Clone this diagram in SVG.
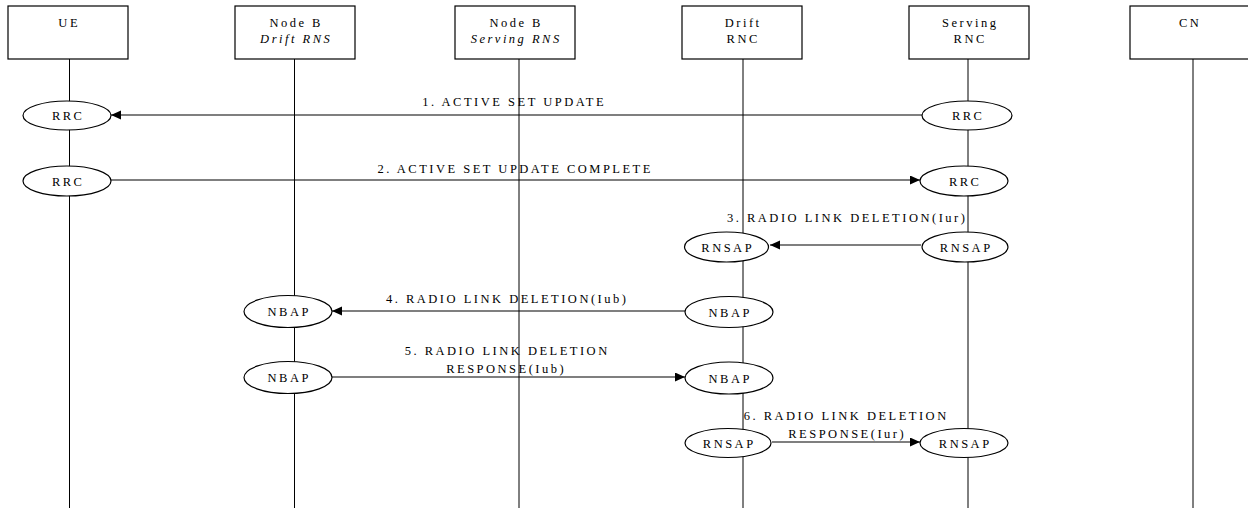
<svg xmlns="http://www.w3.org/2000/svg" width="1248" height="509" viewBox="0 0 1248 509">
  <style>
    text { font-family: "Liberation Serif", "Times New Roman", serif; font-size: 12.5px; letter-spacing: 2.5px; fill: #000; text-anchor: middle; }
    .it { font-style: italic; }
    .box { fill: #fff; stroke: #000; stroke-width: 1.2; }
    .life { stroke: #000; stroke-width: 1; fill: none; }
    .peer { fill: #fff; stroke: #000; stroke-width: 1.2; }
    .msg { stroke: #000; stroke-width: 1.2; fill: none; marker-end: url(#head); }
  </style>
  <defs>
    <marker id="head" markerUnits="userSpaceOnUse" markerWidth="11" markerHeight="10" refX="10" refY="4.5" orient="auto">
      <path d="M0,0 L10,4.5 L0,9 z" fill="#000"/>
    </marker>
  </defs>
  <rect width="1248" height="509" fill="#fff"/>

  <!-- entities: header box with lifeline -->
  <g id="ue">
    <line class="life" x1="69.5" y1="59" x2="69.5" y2="508"/>
    <rect class="box" x="8" y="6" width="120" height="53"/>
    <text x="69.2" y="27">UE</text>
  </g>
  <g id="nodeb-drift">
    <line class="life" x1="294.5" y1="59" x2="294.5" y2="508"/>
    <rect class="box" x="235" y="6" width="120" height="53"/>
    <text x="296.2" y="27">Node B</text>
    <text class="it" x="296.2" y="43">Drift RNS</text>
  </g>
  <g id="nodeb-serving">
    <line class="life" x1="519" y1="59" x2="519" y2="508"/>
    <rect class="box" x="455" y="6" width="120" height="53"/>
    <text x="516.2" y="27">Node B</text>
    <text class="it" x="516.2" y="43">Serving RNS</text>
  </g>
  <g id="drift-rnc">
    <line class="life" x1="743" y1="59" x2="743" y2="508"/>
    <rect class="box" x="682" y="6" width="120" height="53"/>
    <text x="743.2" y="27">Drift</text>
    <text x="743.2" y="43">RNC</text>
  </g>
  <g id="serving-rnc">
    <line class="life" x1="968" y1="59" x2="968" y2="508"/>
    <rect class="box" x="909" y="6" width="120" height="53"/>
    <text x="970.2" y="27">Serving</text>
    <text x="970.2" y="43">RNC</text>
  </g>
  <g id="cn">
    <line class="life" x1="1193" y1="59" x2="1193" y2="508"/>
    <rect class="box" x="1130" y="6" width="122" height="53"/>
    <text x="1190.2" y="27">CN</text>
  </g>

  <!-- message labels -->
  <g id="labels">
    <text x="514.2" y="106">1. ACTIVE SET UPDATE</text>
    <text x="515.2" y="173">2. ACTIVE SET UPDATE COMPLETE</text>
    <text x="847.2" y="222">3. RADIO LINK DELETION(Iur)</text>
    <text x="507.2" y="303">4. RADIO LINK DELETION(Iub)</text>
    <text x="507.2" y="355">5. RADIO LINK DELETION</text>
    <text x="506.2" y="373">RESPONSE(Iub)</text>
    <text x="846.2" y="420">6. RADIO LINK DELETION</text>
    <text x="847.2" y="438">RESPONSE(Iur)</text>
  </g>

  <!-- messages -->
  <g id="connectors">
    <line class="msg" x1="923" y1="115" x2="111" y2="115"/>
    <line class="msg" x1="111" y1="180" x2="920" y2="180"/>
    <line class="msg" x1="921" y1="245" x2="770" y2="245"/>
    <line class="msg" x1="685" y1="311" x2="332" y2="311"/>
    <line class="msg" x1="332" y1="377" x2="685" y2="377"/>
    <line class="msg" x1="772" y1="442" x2="920" y2="442"/>
  </g>

  <!-- protocol peers -->
  <g id="rrc-ue-1"><ellipse class="peer" cx="67" cy="115.5" rx="44" ry="14.5"/><text x="68.2" y="120">RRC</text></g>
  <g id="rrc-srnc-1"><ellipse class="peer" cx="967" cy="115.5" rx="45" ry="14.5"/><text x="968.2" y="120">RRC</text></g>
  <g id="rrc-ue-2"><ellipse class="peer" cx="67" cy="181" rx="44" ry="15"/><text x="68.2" y="185.5">RRC</text></g>
  <g id="rrc-srnc-2"><ellipse class="peer" cx="964" cy="181" rx="44" ry="15"/><text x="965.2" y="185.5">RRC</text></g>
  <g id="rnsap-drnc-3"><ellipse class="peer" cx="726.5" cy="247" rx="42" ry="15"/><text x="727.7" y="251.5">RNSAP</text></g>
  <g id="rnsap-srnc-3"><ellipse class="peer" cx="965" cy="247" rx="43" ry="15"/><text x="966.2" y="251.5">RNSAP</text></g>
  <g id="nbap-nodeb-4"><ellipse class="peer" cx="288" cy="311.5" rx="44" ry="16"/><text x="289.2" y="316">NBAP</text></g>
  <g id="nbap-drnc-4"><ellipse class="peer" cx="729" cy="312" rx="44" ry="15.5"/><text x="730.2" y="316.5">NBAP</text></g>
  <g id="nbap-nodeb-5"><ellipse class="peer" cx="288" cy="377.5" rx="44" ry="16"/><text x="289.2" y="382">NBAP</text></g>
  <g id="nbap-drnc-5"><ellipse class="peer" cx="729" cy="378" rx="44" ry="16"/><text x="730.2" y="382.5">NBAP</text></g>
  <g id="rnsap-drnc-6"><ellipse class="peer" cx="728" cy="443" rx="43" ry="14.5"/><text x="729.2" y="447.5">RNSAP</text></g>
  <g id="rnsap-srnc-6"><ellipse class="peer" cx="964" cy="443" rx="44" ry="14.5"/><text x="965.2" y="447.5">RNSAP</text></g>
</svg>
